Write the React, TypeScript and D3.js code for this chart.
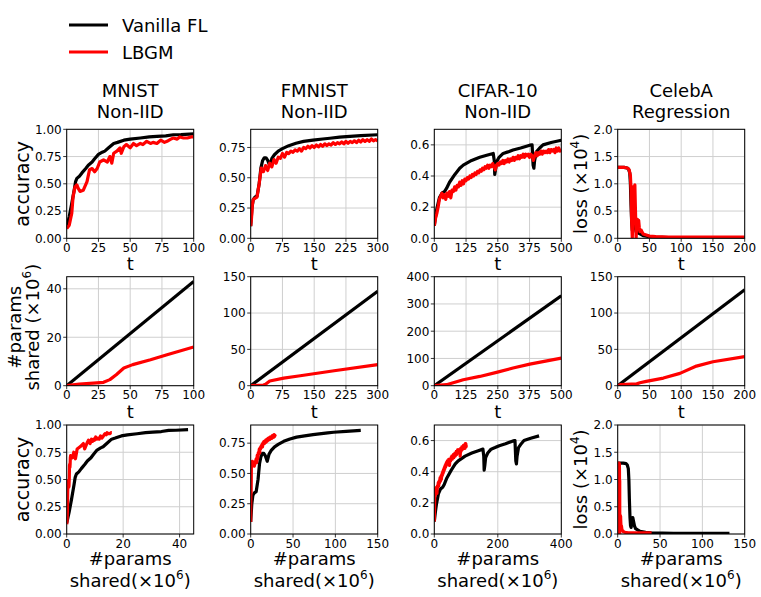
import React from "react";
import * as d3 from "d3";

// ---------- DATA ----------
const datasetTitles = [["MNIST", "Non-IID"], ["FMNIST", "Non-IID"], ["CIFAR-10", "Non-IID"], ["CelebA", "Regression"]];
const legendLabels = ["Vanilla FL", "LBGM"];

// MNIST
const mnistBlackT = [0, 2, 4, 6, 7, 8, 10, 12, 15, 17, 20, 22, 25, 28, 30, 33, 37, 40, 45, 50, 58, 65, 71, 78, 84, 90, 100];
const mnistBlackAcc = [0.1, 0.2, 0.32, 0.45, 0.52, 0.55, 0.57, 0.6, 0.64, 0.67, 0.7, 0.73, 0.77, 0.79, 0.8, 0.83, 0.87, 0.88, 0.9, 0.91, 0.92, 0.93, 0.935, 0.94, 0.95, 0.952, 0.958];
const mnistRedT = [0, 2, 4, 5, 6.5, 8, 9, 10.5, 13, 16, 18, 20, 22, 24, 26, 29, 32, 34, 35.5, 37, 39.5, 42, 43, 45, 47, 50, 52.6, 55, 58, 60, 63, 66, 68, 71, 74, 77, 79, 82, 84, 87, 89, 92, 95, 98, 100];
const mnistRedAcc = [0.09, 0.12, 0.23, 0.38, 0.47, 0.49, 0.46, 0.43, 0.44, 0.52, 0.63, 0.64, 0.61, 0.64, 0.7, 0.72, 0.7, 0.75, 0.69, 0.78, 0.8, 0.83, 0.78, 0.84, 0.86, 0.83, 0.87, 0.85, 0.87, 0.86, 0.89, 0.87, 0.88, 0.87, 0.9, 0.88, 0.89, 0.91, 0.92, 0.91, 0.93, 0.92, 0.92, 0.93, 0.93];
const mnistParamsT = [0, 100];
const mnistBlackParams = [0, 43];
const mnistRedParamsT = [0, 10, 21, 29, 34, 39, 45, 52, 66, 79, 100];
const mnistRedParams = [0, 0.7, 1.1, 1.4, 2.5, 4.5, 7.3, 8.7, 10.7, 12.8, 16];

// FMNIST
const fmBlackT = [0, 3, 6, 10, 15, 20, 24, 28, 32, 36, 40, 45, 50, 56, 65, 75, 90, 107, 125, 147, 170, 187, 210, 226, 260, 300];
const fmBlackAcc = [0.1, 0.25, 0.32, 0.34, 0.35, 0.45, 0.58, 0.64, 0.665, 0.665, 0.645, 0.6, 0.66, 0.69, 0.72, 0.74, 0.765, 0.785, 0.8, 0.81, 0.82, 0.826, 0.835, 0.84, 0.848, 0.855];
const fmRedT = [0, 2, 4, 6, 10, 15, 20, 25, 30, 35, 40, 45, 50, 55, 60, 65, 70, 75, 80, 85, 90, 95, 100, 105, 110, 115, 120, 125, 130, 135, 140, 145, 150, 155, 160, 165, 170, 175, 180, 185, 190, 195, 200, 205, 210, 215, 220, 225, 230, 235, 240, 245, 250, 255, 260, 265, 270, 275, 280, 285, 290, 295, 300];
const fmRedAcc = [0.1, 0.17, 0.28, 0.32, 0.33, 0.34, 0.45, 0.58, 0.55, 0.6, 0.56, 0.62, 0.59, 0.65, 0.62, 0.67, 0.66, 0.7, 0.67, 0.71, 0.7, 0.72, 0.71, 0.73, 0.72, 0.74, 0.72, 0.75, 0.74, 0.76, 0.745, 0.765, 0.75, 0.77, 0.755, 0.775, 0.76, 0.78, 0.765, 0.78, 0.77, 0.79, 0.775, 0.79, 0.78, 0.795, 0.78, 0.8, 0.785, 0.8, 0.79, 0.805, 0.79, 0.81, 0.795, 0.815, 0.8, 0.815, 0.8, 0.82, 0.805, 0.815, 0.805];
const fmParamsT = [0, 300];
const fmBlackParams = [0, 130];
const fmRedParamsT = [0, 30, 35, 45, 78, 117, 197, 300];
const fmRedParams = [0, 1, 2, 6.5, 10.5, 13.7, 20.6, 29];

// CIFAR-10
const cifBlackT = [0, 5, 10, 20, 30, 40, 48, 60, 81, 100, 114, 147, 179, 210, 232, 236, 238, 241, 245, 255, 271, 290, 310, 340, 376, 385, 389, 392, 395, 402, 415, 428, 460, 500];
const cifBlackAcc = [0.08, 0.14, 0.19, 0.26, 0.29, 0.3, 0.32, 0.36, 0.41, 0.45, 0.47, 0.5, 0.52, 0.535, 0.545, 0.5, 0.41, 0.44, 0.49, 0.52, 0.545, 0.555, 0.567, 0.58, 0.598, 0.6, 0.47, 0.45, 0.5, 0.555, 0.58, 0.6, 0.615, 0.63];
const cifRedT = [0, 5, 10, 15, 20, 25, 30, 35, 40, 45, 50, 55, 60, 65, 70, 75, 80, 85, 90, 95, 100, 105, 110, 115, 120, 125, 130, 135, 140, 145, 150, 155, 160, 165, 170, 175, 180, 185, 190, 195, 200, 205, 210, 215, 220, 225, 230, 235, 240, 245, 250, 255, 260, 265, 270, 275, 280, 285, 290, 295, 300, 305, 310, 315, 320, 325, 330, 335, 340, 345, 350, 355, 360, 365, 370, 375, 380, 385, 390, 395, 400, 405, 410, 415, 420, 425, 430, 435, 440, 445, 450, 455, 460, 465, 470, 475, 480, 485, 490, 495, 500];
const cifRedAcc = [0.08, 0.13, 0.16, 0.2, 0.25, 0.27, 0.29, 0.26, 0.28, 0.25, 0.29, 0.27, 0.3, 0.26, 0.31, 0.3, 0.33, 0.31, 0.34, 0.33, 0.36, 0.34, 0.37, 0.35, 0.38, 0.37, 0.39, 0.38, 0.4, 0.39, 0.41, 0.4, 0.42, 0.41, 0.43, 0.42, 0.44, 0.43, 0.45, 0.44, 0.46, 0.45, 0.47, 0.45, 0.47, 0.46, 0.48, 0.46, 0.44, 0.47, 0.48, 0.47, 0.49, 0.48, 0.5, 0.48, 0.5, 0.49, 0.51, 0.49, 0.51, 0.5, 0.52, 0.5, 0.52, 0.51, 0.53, 0.51, 0.53, 0.52, 0.54, 0.52, 0.54, 0.53, 0.54, 0.52, 0.54, 0.53, 0.5, 0.53, 0.55, 0.53, 0.55, 0.54, 0.56, 0.54, 0.56, 0.55, 0.56, 0.55, 0.57, 0.55, 0.57, 0.56, 0.57, 0.55, 0.58, 0.56, 0.58, 0.56, 0.57];
const cifParamsT = [0, 500];
const cifBlackParams = [0, 330];
const cifRedParamsT = [0, 48, 114, 179, 245, 310, 376, 500];
const cifRedParams = [0, 3.6, 22, 34, 49, 65, 79, 101];

// CelebA
const celBlackT = [0, 5, 10, 15, 17, 19, 20, 21, 22, 23, 24, 25, 27, 28, 29, 30, 32, 35, 40, 50, 60, 80, 100, 150, 200];
const celBlackLoss = [1.3, 1.3, 1.3, 1.29, 1.27, 1.2, 1.0, 0.6, 0.3, 0.15, 0.12, 0.2, 0.3, 0.25, 0.2, 0.15, 0.1, 0.08, 0.05, 0.03, 0.02, 0.015, 0.01, 0.01, 0.01];
const celRedT = [0, 5, 10, 15, 18, 20, 21, 22, 23, 24, 25, 26, 27, 28, 29, 30, 31, 32, 33, 34, 35, 37, 40, 45, 50, 60, 80, 100, 150, 200];
const celRedLoss = [1.3, 1.3, 1.3, 1.29, 1.26, 1.15, 0.9, 0.3, 0.0, 0.6, 0.95, 0.7, 0.98, 0.5, 0.0, 0.3, 0.35, 0.25, 0.33, 0.2, 0.12, 0.15, 0.08, 0.06, 0.04, 0.03, 0.02, 0.02, 0.02, 0.02];
const celParamsT = [0, 200];
const celBlackParams = [0, 132];
const celRedParamsT = [0, 5, 30, 35, 45, 72, 98, 124, 150, 200];
const celRedParams = [0, 1.5, 2.5, 4, 6, 10.5, 17, 27, 33, 40];

// axis ticks
const tTicks = [[0, 25, 50, 75, 100], [0, 75, 150, 225, 300], [0, 125, 250, 375, 500], [0, 50, 100, 150, 200]];
const tMax = [100, 300, 500, 200];
const accTicks = [[0, 0.25, 0.5, 0.75, 1.0], [0, 0.25, 0.5, 0.75], [0, 0.2, 0.4, 0.6], [0, 0.5, 1.0, 1.5, 2.0]];
const accMax = [1.0, 0.9, 0.7, 2.0];
const accFmt = [".2f", ".2f", ".1f", ".1f"];
const paramTicks = [[0, 20, 40], [0, 50, 100, 150], [0, 100, 200, 300, 400], [0, 50, 100, 150]];
const paramMax = [45, 150, 400, 150];
const row3XTicks = [[0, 20, 40], [0, 50, 100, 150], [0, 200, 400], [0, 50, 100, 150]];
const row3XMax = [45, 150, 400, 150];

// ---------- LAYOUT ----------
const colLeft = [66.7, 250.7, 434.3, 617.7];
const rowTop = [129.3, 276.7, 425];
const PW = 127;
const PH = 109;
const FONT = "DejaVu Sans, sans-serif";

type Series = { x: number[]; y: number[]; color: string };

function Panel(props: {
  left: number; top: number; xMax: number; yMax: number;
  xTicks: number[]; yTicks: number[]; yFmt: string; series: Series[]; id: string;
}) {
  const { left, top, xMax, yMax, xTicks, yTicks, yFmt, series, id } = props;
  const x = d3.scaleLinear().domain([0, xMax]).range([left, left + PW]);
  const y = d3.scaleLinear().domain([0, yMax]).range([top + PH, top]);
  const fmt = d3.format(yFmt);
  const line = d3.line<[number, number]>().x((d) => x(d[0])).y((d) => y(d[1]));
  return (
    <g>
      <defs>
        <clipPath id={id}>
          <rect x={left} y={top} width={PW} height={PH} />
        </clipPath>
      </defs>
      {xTicks.map((t) => (
        <line key={"gx" + t} x1={x(t)} x2={x(t)} y1={top} y2={top + PH} stroke="#cfcfcf" strokeWidth={1} />
      ))}
      {yTicks.map((t) => (
        <line key={"gy" + t} x1={left} x2={left + PW} y1={y(t)} y2={y(t)} stroke="#cfcfcf" strokeWidth={1} />
      ))}
      <g clipPath={`url(#${id})`}>
        {series.map((s, i) => (
          <path key={i} d={line(s.x.map((v, j) => [v, s.y[j]] as [number, number])) || ""} fill="none" stroke={s.color} strokeWidth={3.2} strokeLinejoin="round" />
        ))}
      </g>
      <rect x={left} y={top} width={PW} height={PH} fill="none" stroke="#000" strokeWidth={1} />
      {xTicks.map((t) => (
        <g key={"tx" + t}>
          <line x1={x(t)} x2={x(t)} y1={top + PH} y2={top + PH + 3.5} stroke="#000" strokeWidth={0.8} />
          <text x={x(t)} y={top + PH + 13.5} textAnchor="middle" fontSize={12} fontFamily={FONT}>{t}</text>
        </g>
      ))}
      {yTicks.map((t) => (
        <g key={"ty" + t}>
          <line x1={left - 3.5} x2={left} y1={y(t)} y2={y(t)} stroke="#000" strokeWidth={0.8} />
          <text x={left - 5} y={y(t)} dy="0.36em" textAnchor="end" fontSize={12} fontFamily={FONT}>{fmt(t)}</text>
        </g>
      ))}
    </g>
  );
}

function mapT(ts: number[], pT: number[], pV: number[]) {
  const s = d3.scaleLinear().domain(pT).range(pV).clamp(true);
  return ts.map((t) => s(t));
}

const BLACK = "#000000";
const RED = "#ff0000";

export default function App() {
  const acc = [
    { bT: mnistBlackT, bY: mnistBlackAcc, rT: mnistRedT, rY: mnistRedAcc, pT: mnistParamsT, bP: mnistBlackParams, rPT: mnistRedParamsT, rP: mnistRedParams },
    { bT: fmBlackT, bY: fmBlackAcc, rT: fmRedT, rY: fmRedAcc, pT: fmParamsT, bP: fmBlackParams, rPT: fmRedParamsT, rP: fmRedParams },
    { bT: cifBlackT, bY: cifBlackAcc, rT: cifRedT, rY: cifRedAcc, pT: cifParamsT, bP: cifBlackParams, rPT: cifRedParamsT, rP: cifRedParams },
    { bT: celBlackT, bY: celBlackLoss, rT: celRedT, rY: celRedLoss, pT: celParamsT, bP: celBlackParams, rPT: celRedParamsT, rP: celRedParams },
  ];

  const sup = (s: string) => (
    <tspan fontSize={12} dy={-8}>{s}</tspan>
  );
  const unsup = <tspan dy={8}>)</tspan>;

  return (
    <svg width={761} height={597} style={{ position: "absolute", left: 0, top: 0 }} fontFamily={FONT}>
      <rect width={761} height={597} fill="#fff" />
      {/* legend */}
      <line x1={69} x2={108} y1={25} y2={25} stroke={BLACK} strokeWidth={3} />
      <text x={122} y={31.5} fontSize={18}>{legendLabels[0]}</text>
      <line x1={69} x2={108} y1={52} y2={52} stroke={RED} strokeWidth={3} />
      <text x={122} y={58.5} fontSize={18}>{legendLabels[1]}</text>

      {datasetTitles.map((tl, i) => (
        <g key={"title" + i}>
          <text x={colLeft[i] + PW / 2} y={97} textAnchor="middle" fontSize={18}>{tl[0]}</text>
          <text x={colLeft[i] + PW / 2} y={118} textAnchor="middle" fontSize={18}>{tl[1]}</text>
        </g>
      ))}

      {acc.map((d, i) => (
        <g key={"col" + i}>
          <Panel id={"c0" + i} left={colLeft[i]} top={rowTop[0]} xMax={tMax[i]} yMax={accMax[i]} xTicks={tTicks[i]} yTicks={accTicks[i]} yFmt={accFmt[i]}
            series={[{ x: d.bT, y: d.bY, color: BLACK }, { x: d.rT, y: d.rY, color: RED }]} />
          <Panel id={"c1" + i} left={colLeft[i]} top={rowTop[1]} xMax={tMax[i]} yMax={paramMax[i]} xTicks={tTicks[i]} yTicks={paramTicks[i]} yFmt="d"
            series={[{ x: d.pT, y: d.bP, color: BLACK }, { x: d.rPT, y: d.rP, color: RED }]} />
          <Panel id={"c2" + i} left={colLeft[i]} top={rowTop[2]} xMax={row3XMax[i]} yMax={accMax[i]} xTicks={row3XTicks[i]} yTicks={accTicks[i]} yFmt={accFmt[i]}
            series={[{ x: mapT(d.bT, d.pT, d.bP), y: d.bY, color: BLACK }, { x: mapT(d.rT, d.rPT, d.rP), y: d.rY, color: RED }]} />
          <text x={colLeft[i] + PW / 2} y={270} textAnchor="middle" fontSize={18}>t</text>
          <text x={colLeft[i] + PW / 2} y={418} textAnchor="middle" fontSize={18}>t</text>
          <text x={colLeft[i] + PW / 2} y={565} textAnchor="middle" fontSize={18}>#params</text>
          <text x={colLeft[i] + PW / 2} y={587} textAnchor="middle" fontSize={18}>shared(×10{sup("6")}{unsup}</text>
        </g>
      ))}

      {/* y labels */}
      <text transform={`translate(29,${rowTop[0] + PH / 2}) rotate(-90)`} textAnchor="middle" fontSize={19}>accuracy</text>
      <text transform={`translate(29,${rowTop[2] + PH / 2}) rotate(-90)`} textAnchor="middle" fontSize={19}>accuracy</text>
      <text transform={`translate(21,${rowTop[1] + PH / 2 - 4}) rotate(-90)`} textAnchor="middle" fontSize={18}>#params</text>
      <text transform={`translate(39,${rowTop[1] + PH / 2 - 4}) rotate(-90)`} textAnchor="middle" fontSize={18}>shared (×10{sup("6")}{unsup}</text>
      <text transform={`translate(587,${rowTop[0] + PH / 2}) rotate(-90)`} textAnchor="middle" fontSize={18}>loss (×10{sup("4")}{unsup}</text>
      <text transform={`translate(587,${rowTop[2] + PH / 2}) rotate(-90)`} textAnchor="middle" fontSize={18}>loss (×10{sup("4")}{unsup}</text>
    </svg>
  );
}
